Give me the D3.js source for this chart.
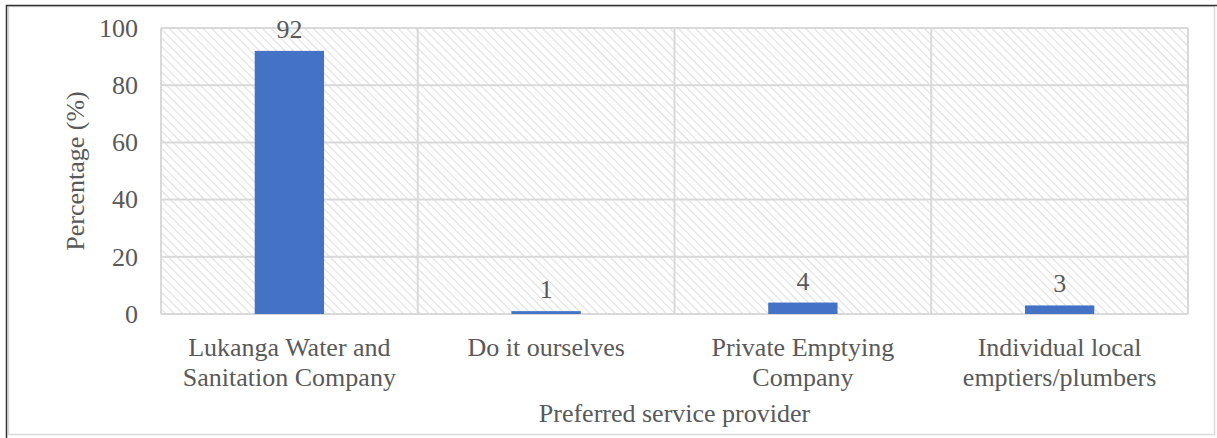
<!DOCTYPE html>
<html>
<head>
<meta charset="utf-8">
<script src="https://cdn.jsdelivr.net/npm/d3@7"></script>
<style>
  body { margin: 0; background: #fff; }
  svg text { font-family: 'Liberation Serif', 'Times New Roman', 'DejaVu Serif', serif; fill: #595959; }
</style>
</head>
<body>
<div id="chart"></div>
<script>
// chart values
const categories = [
    ["Lukanga Water and", "Sanitation Company"],
    ["Do it ourselves"],
    ["Private Emptying", "Company"],
    ["Individual local", "emptiers/plumbers"]
];
const values = [92, 1, 4, 3];
const yTicks = [0, 20, 40, 60, 80, 100];

const W = 1217, H = 438;
const margin = { top: 28, right: 29, bottom: 124, left: 161 };
const width = W - margin.left - margin.right;
const height = H - margin.top - margin.bottom;
const FONT = "'Liberation Serif', 'Times New Roman', serif";
const FS = 26;

const svg = d3.select("#chart").append("svg")
    .attr("width", W)
    .attr("height", H)
    .attr("font-family", FONT);

// hatch pattern for the plot background
const defs = svg.append("defs");
const pat = defs.append("pattern")
    .attr("id", "hatch")
    .attr("patternUnits", "userSpaceOnUse")
    .attr("width", 6)
    .attr("height", 6)
    .attr("patternTransform", "rotate(45)");
pat.append("rect").attr("width", 6).attr("height", 6).attr("fill", "#fff");
pat.append("line")
    .attr("x1", 0).attr("y1", 0).attr("x2", 6).attr("y2", 0)
    .attr("stroke", "#e0e0e0").attr("stroke-width", 2.2);

// outer frames
svg.append("rect")
    .attr("x", 8.5).attr("y", 6.5)
    .attr("width", 1206).attr("height", 428)
    .attr("fill", "none").attr("stroke", "#d9d9d9").attr("stroke-width", 1.5);
svg.append("path")
    .attr("d", "M6.5,438 V5.5 H1217")
    .attr("fill", "none").attr("stroke", "#333").attr("stroke-width", 1.5);

const g = svg.append("g")
    .attr("transform", "translate(" + margin.left + "," + margin.top + ")");

const x = d3.scaleBand()
    .domain(d3.range(categories.length))
    .range([0, width])
    .paddingInner(0.73)
    .paddingOuter(0.365);

const y = d3.scaleLinear()
    .domain([0, 100])
    .range([height, 0]);

g.append("rect")
    .attr("width", width).attr("height", height)
    .attr("fill", "url(#hatch)");

// horizontal gridlines
g.selectAll(".hgrid")
    .data(yTicks)
    .join("line")
    .attr("x1", 0).attr("x2", width)
    .attr("y1", d => y(d)).attr("y2", d => y(d))
    .attr("stroke", "#d9d9d9").attr("stroke-width", 2);

// vertical gridlines on category boundaries
const bounds = d3.range(categories.length + 1).map(i => i * width / categories.length);
g.selectAll(".vgrid")
    .data(bounds)
    .join("line")
    .attr("x1", d => d).attr("x2", d => d)
    .attr("y1", 0).attr("y2", height)
    .attr("stroke", "#d9d9d9").attr("stroke-width", 2);

// y axis
const yAxis = g.append("g")
    .call(d3.axisLeft(y).tickValues(yTicks).tickSize(0).tickPadding(23))
    .attr("font-family", FONT)
    .attr("font-size", FS);
yAxis.select(".domain").remove();
yAxis.selectAll("text")
    .attr("fill", "#595959");

// bars
g.selectAll(".bar")
    .data(values)
    .join("rect")
    .attr("x", (d, i) => x(i))
    .attr("y", d => y(d))
    .attr("width", x.bandwidth())
    .attr("height", d => height - y(d))
    .attr("fill", "#4472C4");

// data labels
g.selectAll(".lbl")
    .data(values)
    .join("text")
    .attr("x", (d, i) => x(i) + x.bandwidth() / 2)
    .attr("y", d => y(d) - 13)
    .attr("text-anchor", "middle")
    .attr("font-size", FS)
    .text(d => d);

// category labels
categories.forEach((lines, i) => {
    const t = g.append("text")
        .attr("x", x(i) + x.bandwidth() / 2)
        .attr("y", height + 42)
        .attr("text-anchor", "middle")
        .attr("font-size", FS);
    lines.forEach((s, j) => {
        t.append("tspan")
            .attr("x", x(i) + x.bandwidth() / 2)
            .attr("dy", j === 0 ? 0 : 30)
            .text(s);
    });
});

// axis titles
svg.append("text")
    .attr("transform", "translate(84," + (margin.top + height / 2) + ") rotate(-90)")
    .attr("text-anchor", "middle")
    .attr("font-size", FS)
    .text("Percentage (%)");

svg.append("text")
    .attr("x", margin.left + width / 2)
    .attr("y", 422)
    .attr("text-anchor", "middle")
    .attr("font-size", FS)
    .text("Preferred service provider");
</script>
</body>
</html>
